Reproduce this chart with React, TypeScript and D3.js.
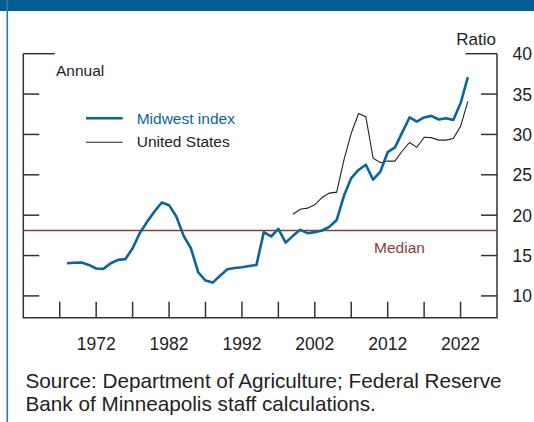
import React from "react";
import * as d3 from "d3";

const midwestYears: number[] = d3.range(1968, 2024);
const midwestValues: number[] = [
  14.05, 14.1, 14.13, 13.84, 13.39, 13.35, 14.05, 14.46, 14.55, 15.9,
  17.8, 19.2, 20.45, 21.57, 21.24, 19.83, 17.44, 15.9, 12.93, 11.9,
  11.65, 12.5, 13.3, 13.45, 13.55, 13.7, 13.84, 17.9, 17.36, 18.3,
  16.6, 17.44, 18.18, 17.77, 17.9, 18.1, 18.55, 19.4, 22.4, 24.6,
  25.6, 26.25, 24.4, 25.4, 27.8, 28.4, 30.25, 32.1, 31.6, 32.1,
  32.3, 31.85, 32.0, 31.8, 33.85, 37.1,
];
const usYears: number[] = d3.range(1999, 2024);
const usValues: number[] = [
  20.12, 20.74, 20.87, 21.28, 22.19, 22.73, 22.85, 26.85, 30.15, 32.6,
  32.2, 27.05, 26.5, 26.7, 26.7, 27.95, 29.0, 28.4, 29.65, 29.6,
  29.3, 29.3, 29.5, 31.0, 34.1,
];
const medianValue = 18.1;
const xTicks: number[] = d3.range(1967, 2023, 5);
const xTickLabels: number[] = [1972, 1982, 1992, 2002, 2012, 2022];
const yTicks: number[] = [10, 15, 20, 25, 30, 35, 40];
const seriesNames = ["Midwest index", "United States"];
const sourceLines = [
  "Source: Department of Agriculture; Federal Reserve",
  "Bank of Minneapolis staff calculations.",
];

const W = 534;
const H = 422;
const L = 23.3;
const R = 497;
const T = 53.7;
const B = 317.7;
const FONT = "'Liberation Sans', Arial, sans-serif";
const BLUE = "#0b659b";
const AXIS = "#333";
const MED = "#8e3b3b";

export default function App() {
  const x = d3.scaleLinear().domain([1962, 2027]).range([L, R]);
  const y = d3.scaleLinear().domain([7.3, 40]).range([B, T]);
  const line = d3
    .line<[number, number]>()
    .x((d) => x(d[0]))
    .y((d) => y(d[1]));
  const mw = midwestYears.map((yr, i) => [yr, midwestValues[i]] as [number, number]);
  const us = usYears.map((yr, i) => [yr, usValues[i]] as [number, number]);

  return (
    <svg
      width={W}
      height={H}
      style={{ position: "absolute", left: 0, top: 0, background: "#fff" }}
      fontFamily={FONT}
    >
      <rect x={0} y={0} width={W} height={H} fill="#fff" />
      <rect x={0} y={0} width={W} height={11} fill="#035f91" />
      <line x1={7.3} x2={7.3} y1={0} y2={H} stroke="#2a78ad" strokeWidth={1.6} />

      {/* frame */}
      <path
        d={`M${L},${T}V${B}H${R}V${T}`}
        fill="none"
        stroke={AXIS}
        strokeWidth={1.5}
      />
      {yTicks.map((t) => {
        const len = t === 40 ? 31.5 : 16;
        return (
          <g key={t}>
            <line x1={L} x2={L + len} y1={y(t)} y2={y(t)} stroke={AXIS} strokeWidth={1.5} />
            <line x1={R - len} x2={R} y1={y(t)} y2={y(t)} stroke={AXIS} strokeWidth={1.5} />
            <text x={512.5} y={y(t) + 6.5} fontSize={17.5} fill="#222">
              {t}
            </text>
          </g>
        );
      })}
      {xTicks.map((t) => (
        <line key={t} x1={x(t)} x2={x(t)} y1={B} y2={B - 16} stroke={AXIS} strokeWidth={1.5} />
      ))}
      {xTickLabels.map((t) => (
        <text key={t} x={x(t)} y={350} fontSize={17.5} fill="#222" textAnchor="middle">
          {t}
        </text>
      ))}
      <text x={496} y={45} fontSize={17} fill="#222" textAnchor="end">
        Ratio
      </text>

      {/* median */}
      <line x1={L} x2={R} y1={y(medianValue)} y2={y(medianValue)} stroke={MED} strokeWidth={1.3} />
      <text x={399.5} y={252.5} fontSize={15.5} fill={MED} textAnchor="middle">
        Median
      </text>

      {/* series */}
      <path d={line(us) || ""} fill="none" stroke="#222" strokeWidth={1.1} />
      <path d={line(mw) || ""} fill="none" stroke={BLUE} strokeWidth={2.6} strokeLinejoin="round" />

      {/* labels / legend */}
      <text x={56} y={76} fontSize={15.5} fill="#222">
        Annual
      </text>
      <line x1={86} x2={122.7} y1={118.3} y2={118.3} stroke={BLUE} strokeWidth={2.4} />
      <text x={136.7} y={123.5} fontSize={15.5} fill={BLUE}>
        {seriesNames[0]}
      </text>
      <line x1={86} x2={122.7} y1={142.3} y2={142.3} stroke="#222" strokeWidth={1.1} />
      <text x={136.7} y={147.3} fontSize={15.5} fill="#222">
        {seriesNames[1]}
      </text>

      {sourceLines.map((s, i) => (
        <text key={i} x={25.5} y={387.5 + i * 23} fontSize={20.7} fill="#222">
          {s}
        </text>
      ))}
    </svg>
  );
}
